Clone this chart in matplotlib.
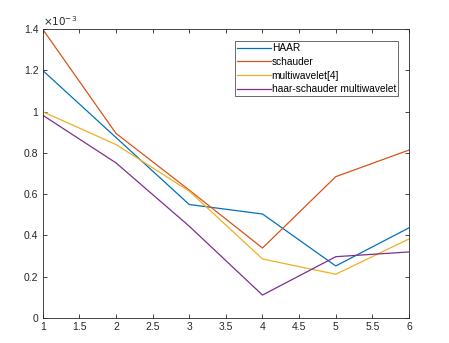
import numpy as np
import matplotlib
matplotlib.use('Agg')
import matplotlib.pyplot as plt
from matplotlib.ticker import FuncFormatter

plt.rcParams['font.family'] = ['Liberation Sans', 'DejaVu Sans']

x = [1, 2, 3, 4, 5, 6]
haar = [1.2e-3, 0.875e-3, 0.55e-3, 0.504e-3, 0.252e-3, 0.437e-3]
schauder = [1.4e-3, 0.895e-3, 0.62e-3, 0.339e-3, 0.685e-3, 0.814e-3]
multiwavelet4 = [1.0e-3, 0.841e-3, 0.615e-3, 0.286e-3, 0.212e-3, 0.383e-3]
haar_schauder = [0.983e-3, 0.752e-3, 0.445e-3, 0.111e-3, 0.297e-3, 0.32e-3]
labels = ['HAAR', 'schauder', 'multiwavelet[4]', 'haar-schauder multiwavelet']
colors = ['#0072BD', '#D95319', '#EDB120', '#7E2F8E']

fig = plt.figure(figsize=(4.49, 3.43), dpi=100)
ax = fig.add_axes([0.095, 0.073, 0.816, 0.842])

for y, lab, c in zip([haar, schauder, multiwavelet4, haar_schauder], labels, colors):
    ax.plot(x, y, color=c, lw=0.9, label=lab)

ax.set_xlim(1, 6)
ax.set_ylim(0, 1.4e-3)
ax.set_xticks(np.arange(1, 6.01, 0.5))
ax.set_yticks(np.arange(0, 1.41e-3, 0.2e-3))
ax.xaxis.set_major_formatter(FuncFormatter(lambda v, p: '%g' % v))
ax.yaxis.set_major_formatter(FuncFormatter(lambda v, p: '%g' % round(v * 1e3, 3)))
ax.tick_params(direction='in', top=True, right=True, length=3, width=0.6,
               labelsize=7.5, colors='#262626', pad=3)
for s in ax.spines.values():
    s.set_color('#262626')
    s.set_linewidth(0.6)

ax.text(0.0, 1.005, r'$\times10^{-3}$', transform=ax.transAxes, fontsize=7.5,
        color='#262626', ha='left', va='bottom')

leg = ax.legend(loc='upper right', bbox_to_anchor=(0.970, 0.958), fontsize=7.3,
                frameon=True, fancybox=False, handlelength=3.4, handletextpad=0.05,
                borderpad=0.2, labelspacing=0.36, borderaxespad=0)
leg.get_frame().set_edgecolor('#262626')
leg.get_frame().set_linewidth(0.6)

plt.savefig('out.png', dpi=100)
